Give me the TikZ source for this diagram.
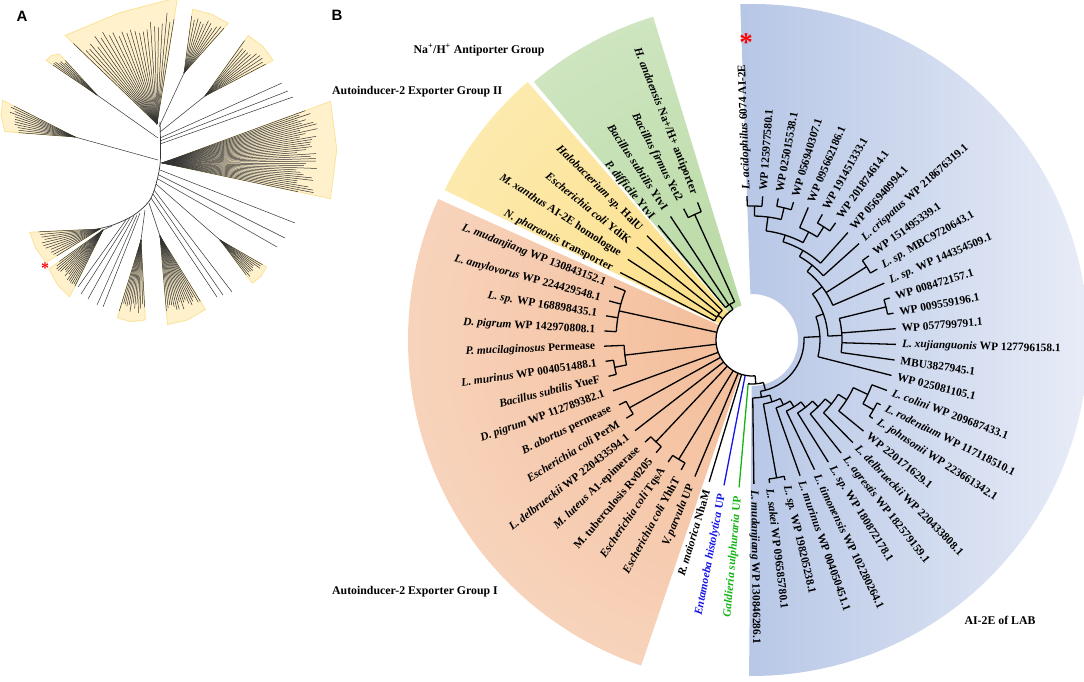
\documentclass[tikz,border=0pt]{standalone}
\usepackage{fontspec}
\setmainfont{Liberation Serif}
\newfontfamily\panelfont{Liberation Sans}
\usepackage{xcolor}
\usetikzlibrary{calc}

\definecolor{grnIn}{RGB}{182,216,160}
\definecolor{grnOut}{RGB}{230,242,224}
\definecolor{ylwIn}{RGB}{251,222,132}
\definecolor{ylwOut}{RGB}{254,245,214}
\definecolor{orgIn}{RGB}{243,188,152}
\definecolor{orgOut}{RGB}{252,234,222}
\definecolor{bluL}{RGB}{160,181,222}
\definecolor{bluR}{RGB}{252,252,254}
\definecolor{fanY}{RGB}{255,241,204}
\definecolor{fanEdge}{RGB}{250,226,150}
\definecolor{entblue}{RGB}{20,20,230}
\definecolor{galgreen}{RGB}{20,180,20}

% one highlighted clade of panel A: apex, outer ends, number of lines, stem start
\newcommand{\fanA}[5]{%
  \coordinate (fa) at #1; \coordinate (fb) at #2; \coordinate (fc) at #3;
  \coordinate (fm) at ($(fb)!.5!(fc)$);
  \filldraw[fill=fanY, draw=fanEdge, line width=0.8pt] (fa) -- ($(fa)!1.08!(fb)$) -- ($(fa)!1.12!(fm)$) -- ($(fa)!1.08!(fc)$) -- cycle;
  \draw[fanline] #5 -- (fa);
  \foreach \k in {0,...,#4} {
    \pgfmathsetmacro\tk{\k/#4}
    \pgfmathsetmacro\sk{0.86+0.14*rnd}
    \coordinate (fe) at ($(fb)!\tk!(fc)$);
    \draw[fanline] (fa) -- ($(fa)!\sk!(fe)$);
  }
}

\begin{document}
\begin{tikzpicture}[x=1pt,y=1pt,
    treeline/.style={line width=1.3pt},
    fanline/.style={black!80, line width=0.5pt},
    leaflab/.style={font=\fontsize{11.4}{13}\selectfont\bfseries, inner sep=0pt},
    grouplab/.style={font=\fontsize{11.8}{14}\selectfont\bfseries, inner sep=0pt}]
\useasboundingbox (0,0) rectangle (1084,681);
\pgfmathsetseed{7}

% ---- panel A (image coordinates)
\begin{scope}[shift={(0,681)},yscale=-1]
  \fanA{(157,124)}{(72,42)}{(176,7)}{24}{(157,124)}
  \fanA{(184,73)}{(192,14)}{(225,27)}{10}{(159,127)}
  \fanA{(205,96)}{(245,40)}{(268,63)}{9}{(160,132)}
  \fanA{(162,163)}{(318,106)}{(318,196)}{36}{(162,163)}
  \fanA{(220,240)}{(263,265)}{(250,280)}{9}{(156,184)}
  \fanA{(160,236)}{(202,304)}{(167,318)}{16}{(149,203)}
  \fanA{(141,240)}{(145,314)}{(119,312)}{12}{(145,210)}
  \fanA{(103,230)}{(72,292)}{(53,266)}{14}{(112,226)}
  \fanA{(100,229)}{(50,260)}{(35,232)}{10}{(100,229)}
  \fanA{(97,95)}{(62,57)}{(50,63)}{6}{(158,138)}
  \fanA{(75,137)}{(10,132)}{(8,103)}{10}{(158,160)}
  \foreach \xa/\ya/\xb/\yb in {160/138/282/83, 160/141/288/91, 160/144/293/97,
      160/170/295/223, 159/175/285/238, 158/179/277/247,
      154/190/232/292, 153/194/223/295, 151/198/217/297,
      140/213/103/307, 137/215/97/305, 134/216/88/299, 130/218/81/294, 126/220/78/287}
    \draw[fanline] (\xa,\ya) -- (\xb,\yb);
  \draw[fanline, line width=0.7pt] plot[smooth] coordinates {(160,122) (160,165) (151,198) (134,215) (113,225) (97,229)};
  \node[text=red, font=\fontsize{16}{16}\selectfont\bfseries, inner sep=0pt] (astA) at (45,268) {*};
\end{scope}

% ---- panel B, centred on the root
\begin{scope}[shift={(752,341)}]
  % clade sectors
  \begin{scope}
    \clip (-90.5:46) arc (-90.5:92:46) -- (92:336) arc (92:-90.5:336) -- cycle;
    \shade[left color=bluL, right color=bluR] (-175,-345) rectangle (485,345);
  \end{scope}
  \begin{scope}
    \clip (107:36) arc (107:130.2:36) -- (130.2:338) arc (130.2:107:338) -- cycle;
    \shade[inner color=grnIn, outer color=grnOut] (0,0) circle (680);
  \end{scope}
  \begin{scope}
    \clip (131:36) arc (131:154:36) -- (154:342) arc (154:131:342) -- cycle;
    \shade[inner color=ylwIn, outer color=ylwOut] (0,0) circle (680);
  \end{scope}
  \begin{scope}
    \clip (155.8:36) arc (155.8:251.2:36) -- (251.2:344) arc (251.2:155.8:344) -- cycle;
    \shade[inner color=orgIn, outer color=orgOut] (0,0) circle (680);
  \end{scope}

  % radial branches: angle/from/to
  \foreach \a/\p/\q in {92/134/144, 85.75/134/144, 79.5/136/144, 73.25/136/144, 67/122/144,
      60.75/134/144, 54.5/134/144, 48.25/103/144, 42/96/144, 35.75/136/144, 29.5/136/144,
      23.25/88/144, 17/138/144, 10.75/138/144, 4.5/90/144, -1.75/90/144, -8/90/144,
      -14.25/68/144, -20.5/128/144, -26.75/140/144, -33/140/144, -39.25/112/144,
      -45.5/102/144, -51.75/94/144, -58/86/144, -64.25/79/144, -70.5/72/144,
      -76.75/140/144, -83/140/144, -89.25/58/144,
      88.875/124/134, 76.375/124/136, 82.625/110/124, 57.625/122/134, 62.3125/110/122,
      72.47/103/110, 60.36/96/103, 51.18/88/96, 32.625/88/136, 37.2/76/88, 13.875/90/138,
      2.94/76/90, 20.07/68/76, 2.91/52/68, -29.875/128/140, -25.19/112/128, -32.22/102/112,
      -38.86/94/102, -45.3/86/94, -51.65/79/86, -57.95/72/79, -64.2/65/72, -79.875/65/140,
      -72.04/58/65, -80.64/52/58, -75/44/52,
      121.9/36/42, 129.3/42/148, 123.4/42/148, 114.55/42/138, 117.5/138/148, 111.6/138/148,
      144.05/36/42, 152.9/42/148, 147/42/148, 141.1/42/148, 135.2/42/148,
      167.65/36/136, 176.5/136/148, 170.6/136/148, 164.7/136/148, 158.8/136/148,
      186.8/36/128, 182.4/128/148, 191.25/128/140, 188.3/140/148, 194.2/140/148,
      200.1/36/148, 208.95/36/140, 206/140/148, 211.9/140/148, 217.8/36/148,
      226.65/36/140, 223.7/140/148, 229.6/140/148, 238.45/36/140, 235.5/140/148,
      241.4/140/148, 247.3/36/148, 253.2/36/148, 275/36/44}
    \draw[treeline] (\a:\p) -- (\a:\q);
  \draw[treeline, entblue] (259.1:36) -- (259.1:148);
  \draw[treeline, galgreen] (265:44) -- (265:148);

  % node arcs: from/to/radius
  \foreach \u/\v/\r in {85.75/92/134, 73.25/79.5/136, 76.375/88.875/124, 54.5/60.75/134,
      57.625/67/122, 62.3125/82.625/110, 48.25/72.47/103, 42/60.36/96, 29.5/35.75/136,
      23.25/51.18/88, 10.75/17/138, -8/13.875/90, 2.94/37.2/76, -14.25/20.07/68,
      -33/-26.75/140, -29.875/-20.5/128, -39.25/-25.19/112, -45.5/-32.22/102,
      -51.75/-38.86/94, -58/-45.3/86, -64.25/-51.65/79, -70.5/-57.95/72, -83/-76.75/140,
      -79.875/-64.2/65, -89.25/-72.04/58, -80.64/2.91/52, 265/285/44,
      121.9/275/36, 114.55/129.3/42, 111.6/117.5/138, 135.2/152.9/42, 158.8/176.5/136,
      182.4/191.25/128, 188.3/194.2/140, 206/211.9/140, 223.7/229.6/140, 235.5/241.4/140}
    \draw[treeline] (\u:\r) arc (\u:\v:\r);

  % leaf labels, LAB side
  \foreach \t [count=\i] in {\textit{L. acidophilus} 6074 AI-2E, WP 125977580.1, WP 025015538.1,
      WP 056940307.1, WP 095662186.1, WP 191451333.1, WP 201874614.1, WP 056940994.1,
      \textit{L. crispatus} WP 218676319.1, WP 151495339.1, \textit{L. sp.} MBC9720643.1,
      \textit{L. sp.} WP 144354509.1, WP 008472157.1, WP 009559196.1, WP 057799791.1,
      \textit{L. xujianguonis} WP 127796158.1, MBU3827945.1, WP 025081105.1,
      \textit{L. colini} WP 209687433.1, \textit{L. rodentium} WP 117118510.1,
      \textit{L. johnsonii} WP 223661342.1, WP 220171629.1, \textit{L. delbrueckii} WP 220433808.1,
      \textit{L. agrestis} WP 182579159.1, \textit{L. sp.} WP 180872178.1,
      \textit{L. timonensis} WP 102280264.1, \textit{L. murinus} WP 004050451.1,
      \textit{L. sp.} WP 198205238.1, \textit{L. sakei} WP 096585780.1,
      \textit{L. mudanjiang} WP 130846286.1} {
    \pgfmathsetmacro\a{92-6.25*(\i-1)}
    \node[leaflab, anchor=west, rotate=\a] (b\i) at (\a:150) {\t};
  }
  % leaf labels, other side
  \foreach \t [count=\i from 31] in {{\color{galgreen}\textit{Galdieria sulphuraria} UP},
      {\color{entblue}\textit{Entamoeba histolytica} UP}, \textit{R. maiorica} NhaM,
      \textit{V. parvula} UP, \textit{Escherichia coli} YhhT, \textit{Escherichia coli} TqsA,
      M. tuberculosis Rv0205, \textit{M. luteus} A1-epimerase,
      \textit{L. delbrueckii} WP 220433594.1, \textit{Escherichia coli} PerM,
      \textit{B. abortus} permease, \textit{D. pigrum} WP 112789382.1,
      \textit{Bacillus subtilis} YueF, \textit{L. murinus} WP 004051488.1,
      \textit{P. mucilaginosus} Permease, \textit{D. pigrum} WP 142970808.1,
      \textit{L. sp.} WP 168898435.1, \textit{L. amylovorus} WP 224429548.1,
      \textit{L. mudanjiang} WP 130843152.1, \textit{N. pharaonis} transporter,
      \textit{M. xanthus} AI-2E homologue, \textit{Escherichia coli} YdiK,
      \textit{Halobacterium sp.} HalU, \textit{P. difficile} YtvI,
      \textit{Bacillus subtilis} YtvI, \textit{Bacillus firmus} Yet2,
      \textit{H. andaensis} Na+/H+ antiporter} {
    \pgfmathsetmacro\a{265-5.9*(\i-31)}
    \node[leaflab, anchor=east, rotate=\a-180] (g\i) at (\a:157) {\t};
  }
\end{scope}

% ---- titles
\node[font=\panelfont\fontsize{15}{18}\selectfont\bfseries, inner sep=0pt] (pA) at (22,665) {A};
\node[font=\panelfont\fontsize{15}{18}\selectfont\bfseries, inner sep=0pt] (pB) at (337,666) {B};
\node[grouplab] (gNa) at (479,631) {Na\textsuperscript{+}/H\textsuperscript{+} Antiporter Group};
\node[grouplab, anchor=west] (gII) at (332,589) {Autoinducer-2 Exporter Group II};
\node[grouplab, anchor=west] (gI) at (332,89) {Autoinducer-2 Exporter Group I};
\node[grouplab] (gLAB) at (1000,61) {AI-2E of LAB};
\node[text=red, font=\fontsize{27}{27}\selectfont\bfseries, inner sep=0pt] (astB) at (746,638) {*};
\end{tikzpicture}
\end{document}
